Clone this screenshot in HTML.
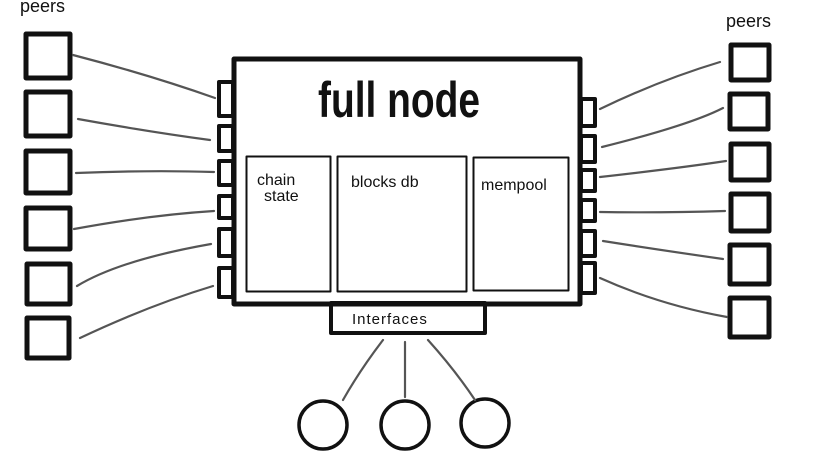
<!DOCTYPE html>
<html><head><meta charset="utf-8"><style>
html,body{margin:0;padding:0;background:#fff;}
svg{display:block}
text{font-family:"Liberation Sans",sans-serif;fill:#111}
</style></head><body>
<svg width="814" height="455" viewBox="0 0 814 455" xmlns="http://www.w3.org/2000/svg">
<g fill="none" stroke="#111" stroke-width="5" stroke-linejoin="round">
<rect x="26" y="34" width="44" height="44"/>
<rect x="26" y="92" width="44" height="44"/>
<rect x="26" y="151" width="44" height="42"/>
<rect x="26" y="208" width="44" height="41"/>
<rect x="27" y="264" width="43" height="40"/>
<rect x="27" y="318" width="42" height="40"/>
<rect x="731" y="45" width="38" height="35"/>
<rect x="730" y="94" width="38" height="35"/>
<rect x="731" y="144" width="38" height="36"/>
<rect x="731" y="194" width="38" height="37"/>
<rect x="730" y="245" width="39" height="39"/>
<rect x="730" y="298" width="39" height="39"/>
<rect x="234" y="59" width="346" height="245" stroke-width="5"/>
<rect x="219" y="82" width="14" height="34" stroke-width="4"/>
<rect x="219" y="126" width="14" height="25" stroke-width="4"/>
<rect x="219" y="161" width="14" height="24" stroke-width="4"/>
<rect x="219" y="196" width="14" height="22" stroke-width="4"/>
<rect x="219" y="229" width="14" height="27" stroke-width="4"/>
<rect x="219" y="268" width="14" height="29" stroke-width="4"/>
<rect x="581" y="99" width="14" height="27" stroke-width="4"/>
<rect x="581" y="136" width="14" height="26" stroke-width="4"/>
<rect x="581" y="170" width="14" height="21" stroke-width="4"/>
<rect x="581" y="200" width="14" height="21" stroke-width="4"/>
<rect x="581" y="231" width="14" height="25" stroke-width="4"/>
<rect x="581" y="263" width="14" height="30" stroke-width="4"/>
<rect x="331" y="303" width="154" height="30" stroke-width="4"/>
<rect x="246.5" y="156.5" width="84" height="135" stroke-width="2"/>
<rect x="337.5" y="156.5" width="129" height="135" stroke-width="2"/>
<rect x="473.5" y="157.5" width="95" height="133" stroke-width="2"/>
<circle cx="323" cy="425" r="24" stroke-width="3.5"/>
<circle cx="405" cy="425" r="24" stroke-width="3.5"/>
<circle cx="485" cy="423" r="24" stroke-width="3.5"/>
</g>
<g fill="none" stroke="#555" stroke-width="2.2" stroke-linecap="round">
<path d="M73 55 Q150 75 215 98"/>
<path d="M78 119 Q150 132 210 140"/>
<path d="M76 173 Q150 170 214 172"/>
<path d="M74 229 Q150 215 214 211"/>
<path d="M77 286 Q120 260 211 244"/>
<path d="M80 338 Q150 305 213 286"/>
<path d="M600 109 Q660 80 720 62"/>
<path d="M602 147 Q690 125 723 108"/>
<path d="M600 177 Q680 168 726 161"/>
<path d="M600 212 Q660 213 725 211"/>
<path d="M603 241 Q660 250 723 259"/>
<path d="M600 278 Q660 305 727 317"/>
<path d="M383 340 Q360 370 343 400"/>
<path d="M405 342 L405 397"/>
<path d="M428 340 Q455 370 475 400"/>
</g>
<text x="20" y="12" font-size="18">peers</text>
<text x="726" y="27" font-size="18">peers</text>
<text x="318" y="117" font-size="50" font-weight="bold" textLength="162" lengthAdjust="spacingAndGlyphs">full node</text>
<text x="257" y="185" font-size="16">chain</text>
<text x="264" y="201" font-size="16">state</text>
<text x="351" y="187" font-size="16">blocks db</text>
<text x="481" y="190" font-size="16">mempool</text>
<text x="352" y="324" font-size="15" letter-spacing="1">Interfaces</text>
</svg>
</body></html>
